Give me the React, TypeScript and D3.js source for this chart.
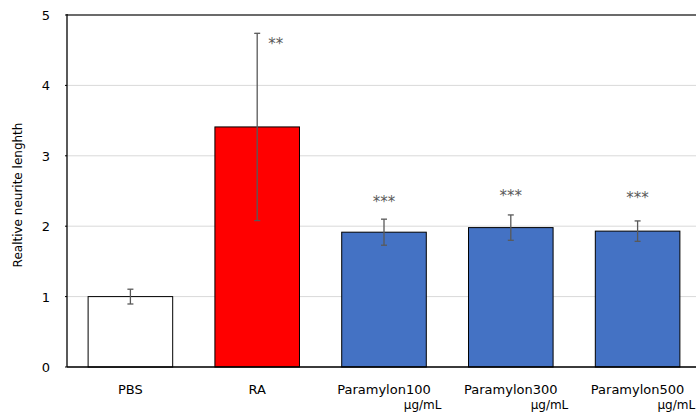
import React from "react";
import * as d3 from "d3";

const categories = ["PBS", "RA", "Paramylon100", "Paramylon300", "Paramylon500"];
const units = ["", "", "µg/mL", "µg/mL", "µg/mL"];
const means = [1.0, 3.41, 1.915, 1.98, 1.93];
const errors = [0.105, 1.33, 0.185, 0.18, 0.145];
const sigLabels = ["", "**", "***", "***", "***"];
const sigHeights = [0, 4.64, 2.4, 2.48, 2.455];
const yTicks = [0, 1, 2, 3, 4, 5];
const yLabel = "Realtive neurite lenghth";

const barFills = ["#ffffff", "#ff0000", "#4472c4", "#4472c4", "#4472c4"];

const W = 696;
const H = 417;
const left = 67;
const top = 15;
const bottom = 367;
const font = "'DejaVu Sans', sans-serif";

const App = () => {
  const x = d3.scaleBand().domain(categories).range([left, left + 5 * 126.8]).padding(0);
  const y = d3.scaleLinear().domain([0, 5]).range([bottom, top]);
  const barW = x.bandwidth() * 0.667;
  const cx = (c: string) => (x(c) as number) + x.bandwidth() / 2;

  return (
    <svg width={W} height={H} style={{ position: "absolute", left: 0, top: 0, background: "#fff" }}>
      {/* gridlines */}
      {yTicks.map(t => (
        <line
          key={"g" + t}
          x1={left}
          x2={W}
          y1={y(t)}
          y2={y(t)}
          stroke={t === 5 ? "#6b6b6b" : "#d9d9d9"}
          strokeWidth={t === 5 ? 2 : 1}
        />
      ))}
      {/* y tick labels */}
      {yTicks.map(t => (
        <g key={"t" + t}>
          <line x1={left - 2} x2={left} y1={y(t)} y2={y(t)} stroke="#000" />
          <text x={50} y={y(t) + 5} textAnchor="end" fontFamily={font} fontSize={13} fill="#000">
            {t}
          </text>
        </g>
      ))}
      <text
        transform={`translate(22,195) rotate(-90)`}
        textAnchor="middle"
        fontFamily={font}
        fontSize={12}
        fill="#000"
      >
        {yLabel}
      </text>

      {/* bars */}
      {categories.map((c, i) => (
        <rect
          key={"b" + c}
          x={cx(c) - barW / 2}
          y={y(means[i])}
          width={barW}
          height={y(0) - y(means[i])}
          fill={barFills[i]}
          stroke="#000"
          strokeWidth={1}
        />
      ))}

      {/* error bars */}
      {categories.map((c, i) => {
        const hi = y(means[i] + errors[i]);
        const lo = y(means[i] - errors[i]);
        return (
          <g key={"e" + c} stroke="#595959" strokeWidth={1.3}>
            <line x1={cx(c)} x2={cx(c)} y1={hi} y2={lo} />
            <line x1={cx(c) - 3} x2={cx(c) + 3} y1={hi} y2={hi} />
            <line x1={cx(c) - 3} x2={cx(c) + 3} y1={lo} y2={lo} />
          </g>
        );
      })}

      {/* significance */}
      {categories.map((c, i) =>
        sigLabels[i] ? (
          <text
            key={"s" + c}
            x={sigLabels[i] === "**" ? cx(c) + 11 : cx(c)}
            y={y(sigHeights[i]) + 9}
            textAnchor={sigLabels[i] === "**" ? "start" : "middle"}
            fontFamily={font}
            fontSize={15}
            fill="#595959"
          >
            {sigLabels[i]}
          </text>
        ) : null
      )}

      {/* axes */}
      <line x1={left} x2={left} y1={top - 1} y2={bottom} stroke="#000" strokeWidth={1.3} />
      <line x1={left} x2={W} y1={bottom} y2={bottom} stroke="#000" strokeWidth={1.3} />

      {/* x labels */}
      {categories.map((c, i) => (
        <g key={"x" + c}>
          <text x={cx(c)} y={394} textAnchor="middle" fontFamily={font} fontSize={13} fill="#000">
            {c}
          </text>
          {units[i] ? (
            <text x={cx(c) + 57.5} y={409} textAnchor="end" fontFamily={font} fontSize={12} fill="#000">
              {units[i]}
            </text>
          ) : null}
        </g>
      ))}
    </svg>
  );
};

export default App;
